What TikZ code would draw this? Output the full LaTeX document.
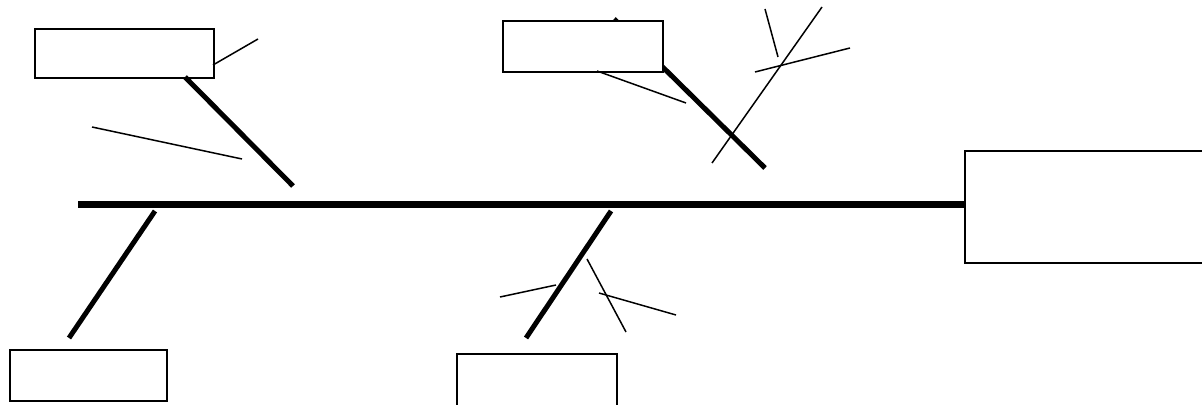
\documentclass[tikz,border=0pt]{standalone}
\tikzset{
	box/.style={draw,line width=1pt,fill=white,inner sep=0pt,anchor=north west},
	spine/.style={line width=3.5pt},
	bone/.style={line width=2.5pt},
	twig/.style={line width=0.75pt}
}
\begin{document}
\begin{tikzpicture}[x=0.5pt,y=-0.5pt,line join=miter]
	% spine and head
	\node[box,minimum width=160pt,minimum height=56pt] (head) at (964,150) {};
	\coordinate (tail) at (78,205);
	\draw[spine] (tail)--(tail-|head.west);
	% top left
	\node[box,minimum width=89.5pt,minimum height=24.5pt] (tl) at (34,28) {};
	\coordinate (tlend) at (293,186);
	\draw[bone] (185,77)--(tlend);
	\draw[twig] (213,65)--(258,39);
	\draw[twig] (92,127)--(242,159);
	% top middle
	\coordinate (tmend) at (765,168);
	\draw[bone] (614,19)--(tmend);
	\node[box,minimum width=80pt,minimum height=25.5pt] (tm) at (502,20) {};
	\draw[twig] (597,71)--(686,103);
	\draw[twig] (712,163)--(822,7);
	\draw[twig] (765,9)--(778,57);
	\draw[twig] (755,72)--(850,48);
	% bottom left
	\node[box,minimum width=78.5pt,minimum height=25.5pt] (bl) at (9,349) {};
	\draw[bone] (155,211)--(69,338);
	% bottom middle
	\node[box,minimum width=80pt,minimum height=30pt] (bm) at (456,353) {};
	\draw[bone] (611,211)--(526,338);
	\draw[twig] (500,297)--(556,285);
	\draw[twig] (587,259)--(626,332);
	\draw[twig] (599,293)--(676,315);
	\pgfresetboundingbox
	\useasboundingbox (0,0) rectangle (1202,405);
\end{tikzpicture}
\end{document}
